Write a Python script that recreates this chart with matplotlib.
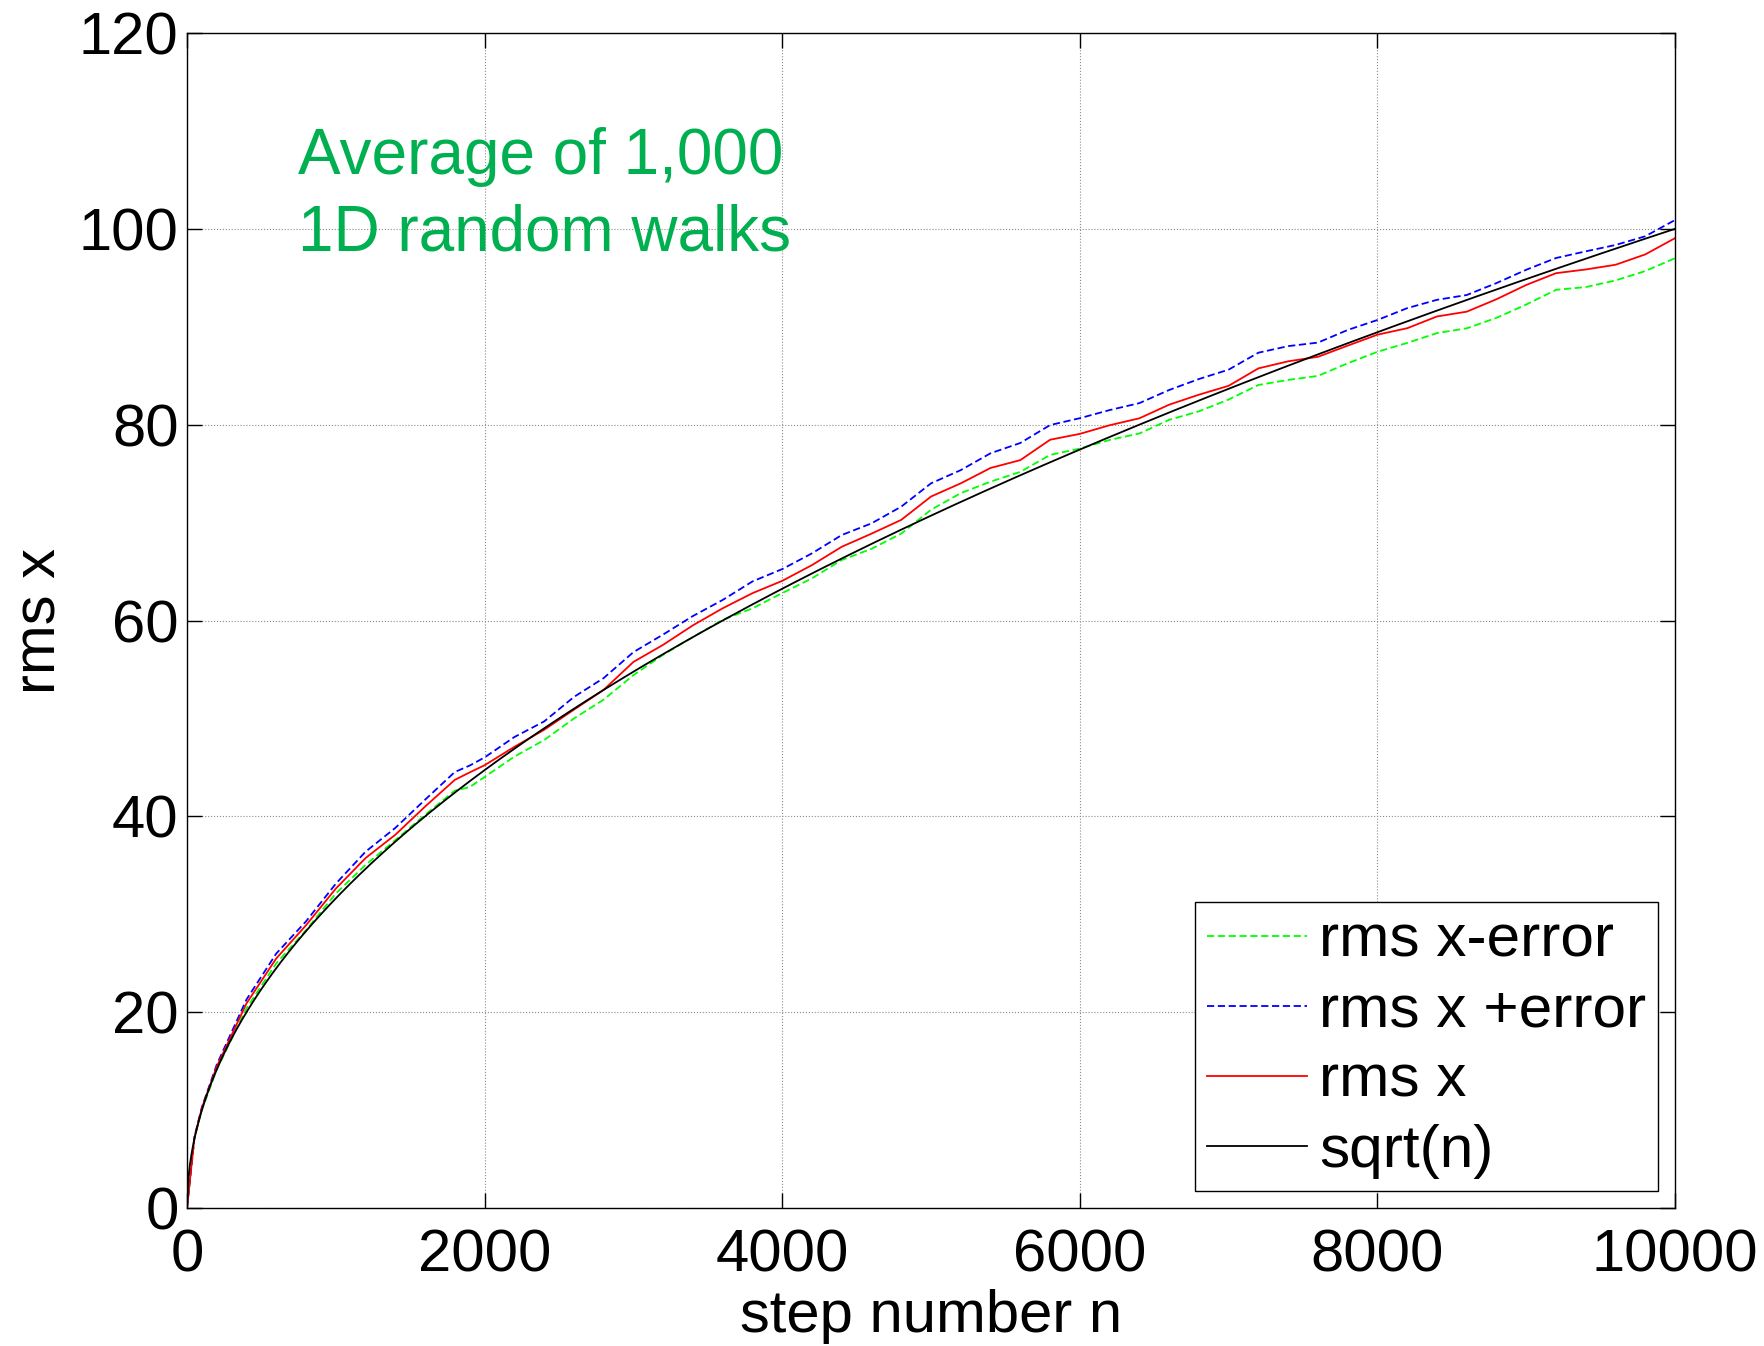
import numpy as np
import matplotlib
matplotlib.use("Agg")
import matplotlib.pyplot as plt

plt.rcParams['font.family'] = ['Liberation Sans', 'DejaVu Sans']

# step numbers where the averaged walks were sampled
steps = [0, 50, 100, 200, 400, 600, 800, 1000, 1200, 1400, 1600, 1800, 1900,
         2000, 2200, 2400, 2600, 2800, 3000, 3200, 3400, 3600, 3800,
         4000, 4200, 4400, 4600, 4800, 5000, 5200, 5400, 5600, 5800,
         6000, 6200, 6400, 6600, 6800, 7000, 7200, 7400, 7600, 7800,
         8000, 8200, 8400, 8600, 8800, 9000, 9200, 9400, 9600, 9800, 10000]

# rms x minus error
rms_lo = [0, 7.07, 10.0, 14.14, 20.4, 24.99, 28.38, 32.12, 35.04, 37.57, 40.15, 42.63, 42.99,
          44.02, 46.1, 47.79, 49.99, 51.92, 54.42, 56.5, 58.31, 60.07, 61.24,
          62.8, 64.31, 66.18, 67.32, 68.88, 71.31, 73.01, 74.18, 75.18, 76.91,
          77.56, 78.44, 79.1, 80.49, 81.36, 82.57, 84.05, 84.57, 84.98, 86.27,
          87.44, 88.35, 89.35, 89.84, 90.91, 92.27, 93.77, 94.05, 94.73, 95.69, 97.0]

# rms x plus error
rms_hi = [0, 7.27, 10.3, 14.64, 21.3, 25.99, 29.28, 33.12, 36.39, 38.82, 41.7, 44.53, 45.19,
          46.02, 48.1, 49.69, 52.19, 54.12, 56.77, 58.57, 60.46, 62.1, 63.99,
          65.25, 66.86, 68.73, 69.92, 71.63, 74.01, 75.36, 77.08, 78.13, 79.96,
          80.66, 81.49, 82.2, 83.54, 84.66, 85.62, 87.35, 88.02, 88.38, 89.67,
          90.69, 91.9, 92.75, 93.24, 94.46, 95.82, 97.02, 97.7, 98.35, 99.24, 100.9]

# rms x
rms = [0, 7.17, 10.2, 14.44, 20.9, 25.49, 28.88, 32.62, 35.74, 38.12, 41.0, 43.73, 44.49,
       45.22, 47.1, 48.84, 50.89, 52.92, 55.77, 57.52, 59.51, 61.25, 62.79,
       64.05, 65.66, 67.53, 68.87, 70.28, 72.66, 74.01, 75.58, 76.38, 78.46,
       79.06, 79.94, 80.65, 82.04, 83.06, 83.97, 85.75, 86.47, 86.93, 88.07,
       89.19, 89.85, 91.05, 91.54, 92.81, 94.27, 95.47, 95.85, 96.33, 97.39, 99.05]

n = np.arange(0, 10001, 10)

fig = plt.figure(figsize=(17.64, 13.46), dpi=100)
ax = fig.add_axes([0.106, 0.1025, 0.8436, 0.873])

lw = 1.3
ax.plot(steps, rms_lo, color='#00ff00', lw=lw, linestyle=(0, (4, 2)), label='rms x-error')
ax.plot(steps, rms_hi, color='#0000ff', lw=lw, linestyle=(0, (4, 2)), label='rms x +error')
ax.plot(steps, rms, color='#ff0000', lw=lw, label='rms x')
ax.plot(n, np.sqrt(n), color='black', lw=lw, label='sqrt(n)')

ax.set_xlim(0, 10000)
ax.set_ylim(0, 120)
ax.set_xticks(range(0, 10001, 2000))
ax.set_yticks(range(0, 121, 20))
ax.grid(True, linestyle=':', color='0.55', lw=0.8)
ax.tick_params(direction='in', length=11, width=1.0, top=True, right=True,
               labelsize=43)
ax.tick_params(axis='x', pad=15)
ax.tick_params(axis='y', pad=6)
for s in ax.spines.values():
    s.set_linewidth(1.0)

ax.set_xlabel('step number n', fontsize=43, labelpad=4)
ax.set_ylabel('rms x', fontsize=43, labelpad=8)

# annotation
ax.text(746, 105.6, 'Average of 1,000', color='#00b050', fontsize=46, va='baseline')
ax.text(746, 97.8, '1D random walks', color='#00b050', fontsize=46, va='baseline')

leg = ax.legend(loc='lower right', fontsize=43.5, frameon=True, fancybox=False,
                edgecolor='black', framealpha=1, borderaxespad=0.28,
                handlelength=1.65, handletextpad=0.2, labelspacing=0.25,
                borderpad=0.2)
leg.get_frame().set_linewidth(1.0)

fig.savefig('out.png', dpi=100)
